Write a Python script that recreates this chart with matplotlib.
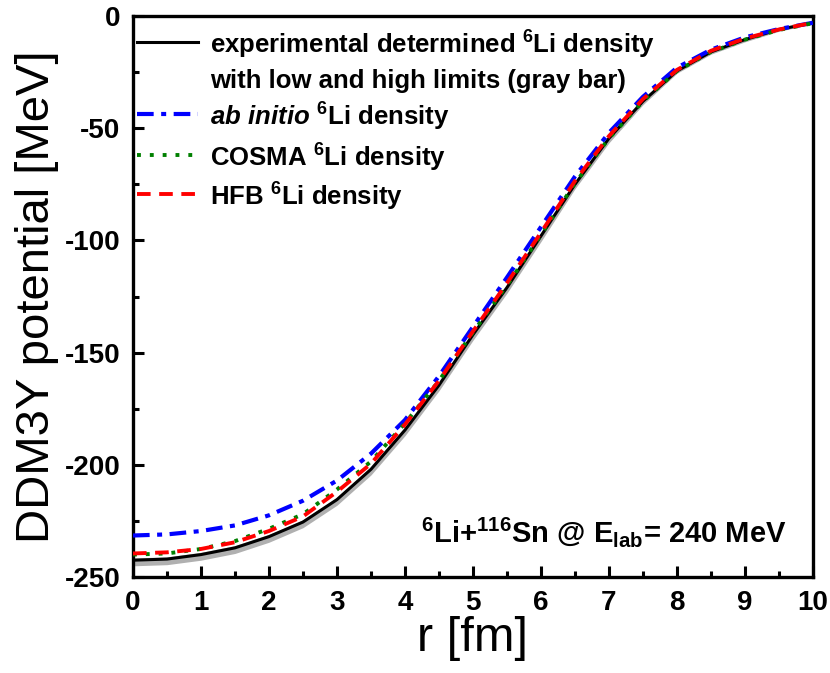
import matplotlib
matplotlib.use('Agg')
import matplotlib.pyplot as plt
from matplotlib.ticker import MultipleLocator

plt.rcParams['font.family'] = ['Liberation Sans', 'DejaVu Sans']
plt.rcParams['axes.unicode_minus'] = False
plt.rcParams['mathtext.fontset'] = 'custom'
plt.rcParams['mathtext.rm'] = 'Liberation Sans:bold'
plt.rcParams['mathtext.it'] = 'Liberation Sans:italic:bold'
plt.rcParams['mathtext.bf'] = 'Liberation Sans:bold'

# radius grid [fm]
r = [0, 0.5, 1, 1.5, 2, 2.5, 3, 3.5, 4, 4.5, 5, 5.5, 6, 6.5, 7, 7.5, 8, 8.5, 9, 9.5, 10]

# DDM3Y potential [MeV]
v_exp = [-242.5, -242, -240, -237, -232, -225.5, -215.5, -202, -184.5, -164.5, -142,
         -121, -98, -75, -54.5, -38, -24.5, -16, -10.5, -6, -3]
v_exp_low = [-245, -244.5, -242.5, -239.5, -234.5, -228, -218, -204.5, -187, -167, -144.5,
             -123.5, -100.5, -77, -56.5, -39.5, -25.5, -17, -11.5, -6.8, -3.5]
v_exp_high = [-241.5, -241, -239, -236, -231, -224.5, -214.5, -201, -183.5, -163.5, -141,
              -120, -97, -74, -53.5, -37, -23.5, -15.5, -10, -5.6, -2.7]
v_abinitio = [-231.5, -231, -229.5, -227, -222.5, -216, -207, -195, -180, -160.5, -138.5,
              -116.5, -94, -71.5, -52, -36, -23, -15, -9.5, -5.8, -3]
v_cosma = [-240, -239.5, -237.5, -234, -228.5, -222, -211, -198.5, -181.5, -162.5, -141,
           -120, -97.5, -74.5, -54.5, -38, -24.5, -16, -10.5, -6.2, -3.2]
v_hfb = [-239.5, -239, -237.5, -234.5, -229.5, -223, -212, -199.5, -182, -162.5, -140.5,
         -119, -96.5, -73.5, -53.5, -37, -24, -15.5, -10, -6, -3]

legend_labels = ['experimental determined $^{6}$Li density',
                 'with low and high limits (gray bar)',
                 '$ab\\ initio$ $^{6}$Li density',
                 'COSMA $^{6}$Li density',
                 'HFB $^{6}$Li density']

fig = plt.figure(figsize=(8.3, 6.73), dpi=100)
ax = fig.add_axes([0.1602, 0.1426, 0.9795 - 0.1602, 0.9762 - 0.1426])

# EXP band and curves
ax.fill_between(r, v_exp_low, v_exp_high, color='#b0b0b0', lw=0, zorder=1)
ax.plot(r, v_exp, color='black', lw=2.2, zorder=3)
ax.plot(r, v_abinitio, color='#0000ff', lw=3.0, ls=(0, (4, 1.8, 1.2, 1.8)), zorder=4)
ax.plot(r, v_cosma, color='#008000', lw=2.8, ls=(0, (1, 2.3)), zorder=4)
ax.plot(r, v_hfb, color='#ff0000', lw=2.8, ls=(0, (3.5, 2.2)), zorder=5)

ax.set_xlim(0, 10)
ax.set_ylim(-250, 0)
ax.xaxis.set_major_locator(MultipleLocator(1))
ax.xaxis.set_minor_locator(MultipleLocator(0.5))
ax.yaxis.set_major_locator(MultipleLocator(50))
ax.yaxis.set_minor_locator(MultipleLocator(25))
ax.tick_params(which='both', direction='in', top=False, right=False, width=2.2)
ax.tick_params(which='major', length=8, labelsize=20, pad=9)
ax.tick_params(which='minor', length=4.5)
for lab in ax.get_xticklabels() + ax.get_yticklabels():
    lab.set_fontweight('bold')
for s in ax.spines.values():
    s.set_linewidth(2.4)

ax.set_xlabel('r [fm]', fontsize=35, labelpad=0)
ax.set_ylabel('DDM3Y potential [MeV]', fontsize=34, labelpad=4)

# legend drawn by hand, first entry spans two lines
styles = [dict(color='black', lw=2.2),
          None,
          dict(color='#0000ff', lw=3.0, ls=(0, (4, 1.8, 1.2, 1.8))),
          dict(color='#008000', lw=2.8, ls=(0, (1, 2.3))),
          dict(color='#ff0000', lw=2.8, ls=(0, (3.5, 2.2)))]
rows_y = [0.9537, 0.893, 0.8253, 0.7522, 0.6827]
for lab, st, yy in zip(legend_labels, styles, rows_y):
    if st is not None:
        ax.plot([0.006, 0.096], [yy, yy], transform=ax.transAxes, **st)
    ax.text(0.113, yy - 0.021, lab, transform=ax.transAxes, fontsize=18.5, fontweight='bold',
            va='baseline', ha='left')

ax.text(0.9618, 0.0624, '$^{6}$Li+$^{116}$Sn @ E$_{\\mathrm{lab}}$= 240 MeV', transform=ax.transAxes,
        fontsize=21, fontweight='bold', ha='right', va='baseline')

fig.savefig('out.png', dpi=100)
